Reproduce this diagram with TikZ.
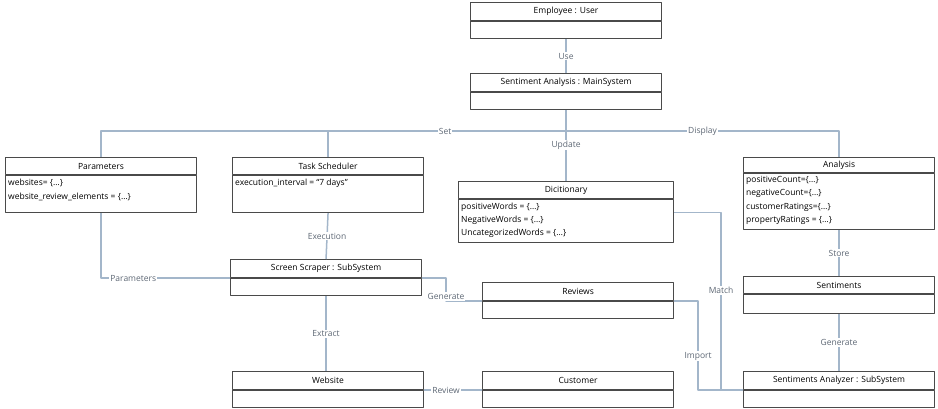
\documentclass[tikz,border=0pt]{standalone}
\usepackage{fontspec}
\setmainfont{Open Sans}
\usetikzlibrary{positioning,calc}
\definecolor{boxline}{HTML}{4A4A4A}
\definecolor{connblue}{HTML}{A3B6CA}
\definecolor{lblgray}{HTML}{5E6875}
\tikzset{
	hdr/.style={draw=boxline, line width=1.1pt, minimum width=191pt, minimum height=18pt, inner sep=0pt, anchor=north west, font=\fontsize{8.5}{9}\selectfont},
	bdy/.style={draw=boxline, line width=1.1pt, minimum width=191pt, minimum height=17pt, inner sep=0pt, anchor=north},
	attr/.style={anchor=north west, align=left, inner sep=0pt, xshift=3pt, yshift=-4pt, font=\fontsize{8.5}{13.5}\selectfont},
	conn/.style={draw=connblue, line width=1.5pt},
	lbl/.style={fill=white, inner sep=1pt, text=lblgray, font=\fontsize{8.5}{9}\selectfont}
}
\begin{document}
\begin{tikzpicture}[x=1pt, y=-1pt, line join=round]
	\useasboundingbox (0,0) rectangle (938,409);
	% boxes
	\node[hdr] (empT) at (470,2) {Employee : User};
	\node[bdy] (empB) at (empT.south) {};
	\node[hdr] (msysT) at (470,73) {Sentiment Analysis : MainSystem};
	\node[bdy] (msysB) at (msysT.south) {};
	\node[hdr, minimum height=17pt] (parT) at (5,157) {Parameters};
	\node[bdy, minimum height=37pt] (parB) at (parT.south) {};
	\node[attr] (parTx) at (parB.north west) {websites= \{…\}\\website\_review\_elements = \{…\}};
	\node[hdr, minimum height=17pt] (tschT) at (232,157) {Task Scheduler};
	\node[bdy, minimum height=37pt] (tschB) at (tschT.south) {};
	\node[attr] (tschTx) at (tschB.north west) {execution\_interval = “7 days”};
	\node[hdr, minimum width=215pt, minimum height=17pt] (dicT) at (458,181) {Dicitionary};
	\node[bdy, minimum width=215pt, minimum height=43pt] (dicB) at (dicT.south) {};
	\node[attr, font=\fontsize{8.5}{13}\selectfont] (dicTx) at (dicB.north west) {positiveWords = \{…\}\\NegativeWords = \{…\}\\UncategorizedWords = \{…\}};
	\node[hdr, minimum height=15pt] (anaT) at (743,157) {Analysis};
	\node[bdy, minimum height=56pt] (anaB) at (anaT.south) {};
	\node[attr, yshift=1pt, font=\fontsize{8.5}{13.4}\selectfont] (anaTx) at (anaB.north west) {positiveCount=\{…\}\\negativeCount=\{…\}\\customerRatings=\{…\}\\propertyRatings = \{…\}};
	\node[hdr] (scrT) at (230,259) {Screen Scraper : SubSystem};
	\node[bdy] (scrB) at (scrT.south) {};
	\node[hdr] (revT) at (482,282) {Reviews};
	\node[bdy] (revB) at (revT.south) {};
	\node[hdr, minimum height=17pt] (senT) at (743,276) {Sentiments};
	\node[bdy, minimum height=19pt] (senB) at (senT.south) {};
	\node[hdr] (webT) at (232,371) {Website};
	\node[bdy] (webB) at (webT.south) {};
	\node[hdr] (cusT) at (482,371) {Customer};
	\node[bdy] (cusB) at (cusT.south) {};
	\node[hdr] (sanT) at (743,371) {Sentiments Analyzer : SubSystem};
	\node[bdy] (sanB) at (sanT.south) {};
	% connectors
	\coordinate (hub) at (msysB.south |- 0,131);
	\draw[conn] (empB.south) -- (msysT.north) node[lbl, midway]{Use};
	\draw[conn] (msysB.south) -- (hub);
	\draw[conn] (hub) -| (parT.north) node[lbl, pos=0.13]{Set};
	\draw[conn] (tschT.north) -- (tschT.north |- hub);
	\draw[conn] (hub) -| (anaT.north) node[lbl, pos=0.25]{Display};
	\draw[conn] (hub) -- (dicT.north) node[lbl, pos=0.28]{Update};
	\draw[conn] (tschB.south) -- (scrT.north) node[lbl, midway]{Execution};
	\draw[conn] (parB.south) |- (scrT.south west) node[lbl, pos=0.625]{Parameters};
	\draw[conn] (scrT.south east) -- ++(24,0) |- (revT.south west) node[lbl, pos=0.4]{Generate};
	\draw[conn] (revT.south east) -- ++(24,0) |- (sanT.south west) node[lbl, pos=0.31]{Import};
	\draw[conn] ([yshift=8.5pt]dicB.east) -- ++(47,0) |- (sanT.south west) node[lbl, pos=0.22]{Match};
	\draw[conn] (anaB.south) -- (senT.north) node[lbl, midway]{Store};
	\draw[conn] (senB.south) -- (sanT.north) node[lbl, midway]{Generate};
	\draw[conn] (scrB.south) -- (scrB.south |- webT.north) node[lbl, midway]{Extract};
	\draw[conn] (webT.south east) -- (cusT.south west) node[lbl, pos=0.38]{Review};
\end{tikzpicture}
\end{document}
